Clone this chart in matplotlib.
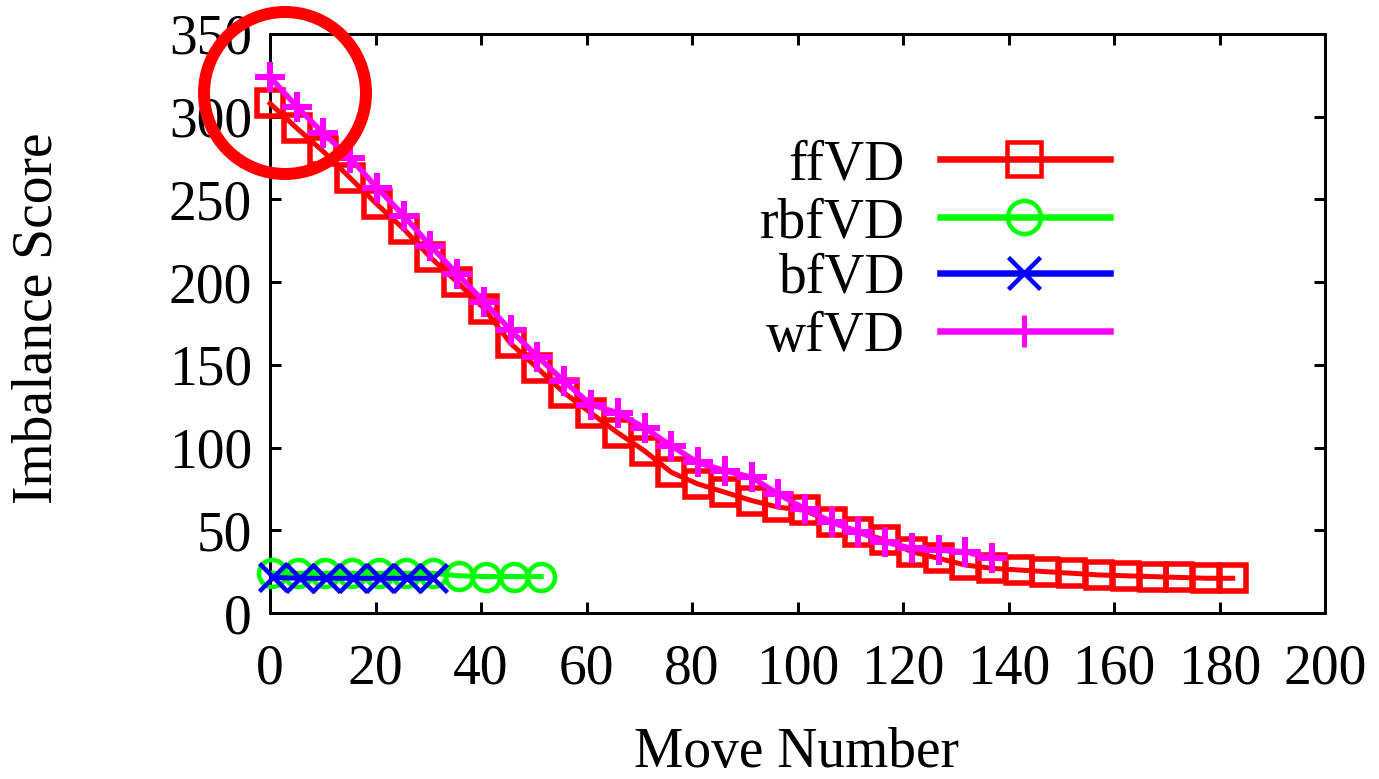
import matplotlib
matplotlib.use("Agg")
import matplotlib.pyplot as plt
from matplotlib.patches import Ellipse

# ---- data ----
ff_x = [0, 5.1, 10.1, 15.2, 20.3, 25.4, 30.4, 35.5, 40.6, 45.6, 50.7, 55.8, 60.8,
        65.9, 71.0, 76.1, 81.1, 86.2, 91.3, 96.3, 101.4, 106.5, 111.5, 116.6,
        121.7, 126.8, 131.8, 136.9, 142.0, 147.0, 152.1, 157.2, 162.2, 167.3,
        172.4, 177.5, 182.5]
ff_y = [308, 293, 279, 263, 247, 232, 215, 200, 184, 163, 148, 133, 121,
        109, 98, 85, 78, 73, 68, 64, 62, 55, 49, 44,
        37, 33, 29, 27, 26, 25, 24, 23, 22.5, 22, 21.5, 21, 21]

rbf_x = [0.4, 5.4, 10.5, 15.6, 20.6, 25.7, 30.9, 35.8, 41.0, 46.3, 51.4]
rbf_y = [24, 24, 24, 24, 24, 24, 24, 22.5, 22, 22, 22]

bf_x = [0.5, 5.6, 10.7, 15.7, 20.8, 25.9, 30.9]
bf_y = [21.5, 21, 21, 21, 21, 21, 21]

wf_x = [0, 5.1, 10.1, 15.2, 20.3, 25.4, 30.4, 35.5, 40.6, 45.6, 50.7, 55.8, 60.8,
        65.9, 71.0, 76.1, 81.1, 86.2, 91.3, 96.3, 101.4, 106.5, 111.5, 116.6,
        121.7, 126.8, 131.8, 136.9]
wf_y = [324, 306, 290, 275, 257, 240, 222, 205, 188, 171, 155, 140, 126,
        121, 112, 101, 91, 86, 82, 72, 63, 55, 49, 43,
        39, 38, 37, 33]

labels = ["ffVD", "rbfVD", "bfVD", "wfVD"]
colors = ["#ff0000", "#00ff00", "#0000ff", "#ff00ff"]
markers = ["s", "o", "x", "+"]

x_ticks = [0, 20, 40, 60, 80, 100, 120, 140, 160, 180, 200]
y_ticks = [0, 50, 100, 150, 200, 250, 300, 350]

# ---- style ----
plt.rcParams['font.family'] = ['Liberation Serif', 'DejaVu Serif']
FS = 40
PX = 0.72  # points per pixel at dpi 100

fig = plt.figure(figsize=(13.79, 7.79), dpi=100)
ax = fig.add_axes([270/1379, 1-613/779, 1055/1379, 579/779])

series = [(ff_x, ff_y), (rbf_x, rbf_y), (bf_x, bf_y), (wf_x, wf_y)]
msizes = [27*PX, 27*PX, 28*PX, 30*PX]
mews = [5.5*PX, 4.5*PX, 4.5*PX, 6*PX]
lws = [5*PX, 5*PX, 5*PX, 5.5*PX]
for (xs, ys), lab, c, m, ms, mew, lw in zip(series, labels, colors, markers, msizes, mews, lws):
    ax.plot(xs, ys, color=c, lw=lw, marker=m, markersize=ms,
            markeredgewidth=mew, markerfacecolor='none', markeredgecolor=c,
            clip_on=False, zorder=3)

ax.set_xlim(0, 200)
ax.set_ylim(0, 350)
ax.set_xticks(x_ticks)
ax.set_yticks(y_ticks)
ax.tick_params(direction='in', length=11*PX, width=3*PX, top=True, right=True,
               labelsize=FS)
ax.tick_params(axis='x', pad=30*PX)
ax.tick_params(axis='y', pad=18*PX)
for s in ax.spines.values():
    s.set_linewidth(3*PX)

ax.set_xlabel("Move Number", fontsize=FS, va='center')
ax.xaxis.set_label_coords(0.4995, (613-753)/579)
ax.set_ylabel("Imbalance Score", fontsize=FS, va='center')
ax.yaxis.set_label_coords((38-270)/1055, (613-318)/579)

# ---- legend (gnuplot style: text right-aligned, sample to the right) ----
rows_y = [(613-159)/579, (613-217)/579, (613-273)/579, (613-331)/579]
tx = (905-270)/1055
lx0, lx1 = (940-270)/1055, (1110-270)/1055
lxc = (1024-270)/1055
leg_ms = [34*PX, 33*PX, 32*PX, 32*PX]
leg_mew = [4.5*PX, 4.5*PX, 4.5*PX, 5*PX]
for lab, c, m, ms, mew, ry in zip(labels, colors, markers, leg_ms, leg_mew, rows_y):
    ax.plot([lx0, lx1], [ry, ry], color=c, lw=6.5*PX, transform=ax.transAxes,
            clip_on=False, zorder=4)
    ax.plot([lxc], [ry], color=c, marker=m, markersize=ms,
            markeredgewidth=mew, markerfacecolor='none', markeredgecolor=c,
            transform=ax.transAxes, clip_on=False, zorder=4)
    ax.text(tx, ry, lab, fontsize=FS, ha='right', va='center_baseline',
            transform=ax.transAxes)

# ---- hand-drawn highlight circle ----
circ = Ellipse((285/1379, 1-93/779), width=162/1379, height=162/779,
               transform=fig.transFigure, fill=False, edgecolor='#ff0000',
               linewidth=12*PX, zorder=10)
fig.add_artist(circ)

fig.savefig("out.png", dpi=100)
